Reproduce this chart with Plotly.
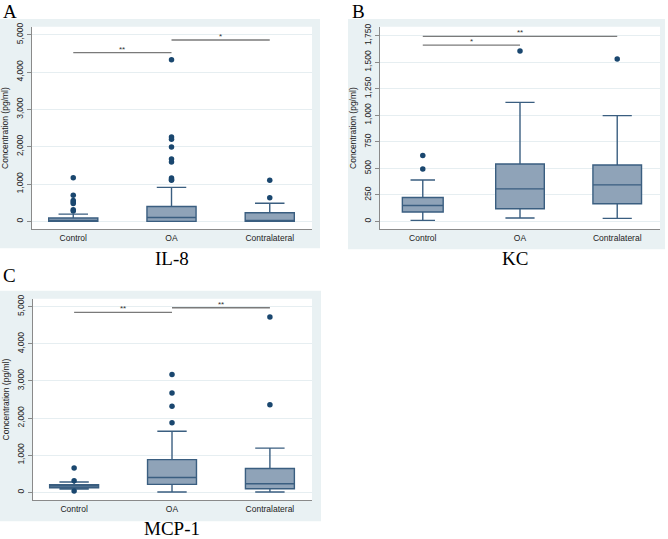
import plotly.graph_objects as go

W, H = 668, 539

categories = ["Control", "OA", "Contralateral"]

# IL-8 (panel A)
il8_lower = [0, 0, 0]
il8_q1 = [0, 0, 0]
il8_median = [20, 105, 5]
il8_q3 = [90, 400, 230]
il8_upper = [195, 910, 485]
il8_outliers = [
    [1170, 700, 560, 520, 480, 310, 280],
    [4330, 2260, 2200, 1990, 1670, 1590, 1160, 1120, 1100],
    [1100, 635],
]
il8_sig = [(0, 1, 4520, "**"), (1, 2, 4860, "*")]

# KC (panel B)
kc_lower = [9, 31, 28]
kc_q1 = [88, 119, 166]
kc_median = [150, 306, 344]
kc_q3 = [225, 541, 531]
kc_upper = [390, 1122, 997]
kc_outliers = [[494, 622], [1606], [1531]]
kc_sig = [(0, 1, 1662, "*"), (0, 2, 1744, "**")]

# MCP-1 (panel C)
mcp_lower = [90, 9, 9]
mcp_q1 = [125, 214, 98]
mcp_median = [170, 400, 231]
mcp_q3 = [205, 881, 641]
mcp_upper = [280, 1646, 1192]
mcp_outliers = [[658, 310, 36], [3176, 2678, 2322, 1877], [4724, 2358]]
mcp_sig = [(0, 1, 4849, "**"), (1, 2, 4973, "**")]

BG = "#e9f1f3"
FILL = "#8fa3b8"
EDGE = "#3a5e80"
DOT = "#1a476f"
AXIS = "#8a8a8a"
SANS = "Liberation Sans, Arial, sans-serif"
SERIF = "Liberation Serif, Times New Roman, serif"

fig = go.Figure()
shapes = []
annotations = []


def px_x(p):
    return p / W


def px_y(p):
    return 1 - p / H


def panel(idx, lower, q1, med, q3, upper, outliers, sig, yrange, dtick, xrange,
          plot_box, outer_box, letter, letter_pos, label, label_pos, widths):
    xa = "x" if idx == 1 else f"x{idx}"
    ya = "y" if idx == 1 else f"y{idx}"
    for i, cat in enumerate(categories):
        fig.add_trace(go.Box(
            x=[cat], lowerfence=[lower[i]], q1=[q1[i]], median=[med[i]],
            q3=[q3[i]], upperfence=[upper[i]], boxpoints=False,
            fillcolor=FILL, line=dict(color=EDGE, width=1.4),
            width=widths[i], whiskerwidth=0.6, showlegend=False,
            xaxis=xa, yaxis=ya, hoverinfo="skip",
        ))
        fig.add_trace(go.Scatter(
            x=[cat] * len(outliers[i]), y=outliers[i], mode="markers",
            marker=dict(color=DOT, size=5.5), showlegend=False,
            xaxis=xa, yaxis=ya, hoverinfo="skip",
        ))
    x0, y0, x1, y1 = plot_box
    ox0, oy0, ox1, oy1 = outer_box
    shapes.append(dict(type="rect", xref="paper", yref="paper", layer="below",
                       x0=px_x(ox0), x1=px_x(ox1), y0=px_y(oy1), y1=px_y(oy0),
                       fillcolor=BG, line=dict(width=0)))
    shapes.append(dict(type="rect", xref="paper", yref="paper", layer="below",
                       x0=px_x(x0), x1=px_x(x1), y0=px_y(y1), y1=px_y(y0),
                       fillcolor="white", line=dict(width=0)))
    for a, b, h, txt in sig:
        shapes.append(dict(type="line", xref=xa, yref=ya, x0=a, x1=b, y0=h, y1=h,
                           line=dict(color="#7a7a7a", width=1.3)))
        annotations.append(dict(xref=xa, yref=ya, x=(a + b) / 2, y=h, text=txt,
                                showarrow=False, yanchor="bottom", yshift=-3,
                                font=dict(family=SANS, size=8, color="#333")))
    annotations.append(dict(xref="paper", yref="paper", x=px_x(letter_pos[0]),
                            y=px_y(letter_pos[1]), text=letter, showarrow=False,
                            xanchor="left", yanchor="middle",
                            font=dict(family=SERIF, size=19, color="black")))
    annotations.append(dict(xref="paper", yref="paper", x=px_x(label_pos[0]),
                            y=px_y(label_pos[1]), text=label, showarrow=False,
                            xanchor="center", yanchor="middle",
                            font=dict(family=SERIF, size=19, color="black")))
    xkey = "xaxis" if idx == 1 else f"xaxis{idx}"
    ykey = "yaxis" if idx == 1 else f"yaxis{idx}"
    fig.update_layout(**{
        xkey: dict(domain=[px_x(x0), px_x(x1)], anchor=ya, type="category",
                   categoryorder="array", categoryarray=categories,
                   range=xrange, showgrid=False, zeroline=False, showline=True,
                   linecolor=AXIS, linewidth=1.3, ticks="",
                   tickfont=dict(family=SANS, size=8.5, color="#222")),
        ykey: dict(domain=[px_y(y1), px_y(y0)], anchor=xa, range=yrange,
                   dtick=dtick, tick0=0, tickformat=",", showgrid=True,
                   gridcolor="#e6eef1", gridwidth=1, zeroline=False,
                   showline=True, linecolor=AXIS, linewidth=1.3,
                   ticks="outside", ticklen=4, tickcolor=AXIS, tickangle=-90,
                   tickfont=dict(family=SANS, size=8.5, color="#222"),
                   title=dict(text="Concentration (pg/ml)", standoff=5,
                              font=dict(family=SANS, size=8.5, color="#222"))),
    })


panel(1, il8_lower, il8_q1, il8_median, il8_q3, il8_upper, il8_outliers, il8_sig,
      [-213, 5213], 1000, [-0.42, 2.43], (32, 23, 312, 227), (0, 15, 320, 246),
      "A", (1, 8), "IL-8", (172, 256), [0.5, 0.5, 0.5])
panel(2, kc_lower, kc_q1, kc_median, kc_q3, kc_upper, kc_outliers, kc_sig,
      [-75, 1834], 250, [-0.44, 2.44], (380, 23, 660, 227), (348, 15, 665, 247),
      "B", (350, 8), "KC", (515, 256), [0.42, 0.5, 0.5])
panel(3, mcp_lower, mcp_q1, mcp_median, mcp_q3, mcp_upper, mcp_outliers, mcp_sig,
      [-214, 5214], 1000, [-0.42, 2.43], (33, 297, 312, 500), (0, 289, 321, 521),
      "C", (1, 274), "MCP-1", (172, 528), [0.5, 0.5, 0.5])

fig.update_layout(
    width=W, height=H, margin=dict(l=0, r=0, t=0, b=0),
    paper_bgcolor="white", plot_bgcolor="rgba(0,0,0,0)",
    shapes=shapes, annotations=annotations, showlegend=False,
    boxgap=0, boxgroupgap=0,
)

# the browser's default 8px body margin would shift the whole figure
fig.write_html("out.html", config={"displayModeBar": False},
               post_script="document.body.style.margin='0px';")
